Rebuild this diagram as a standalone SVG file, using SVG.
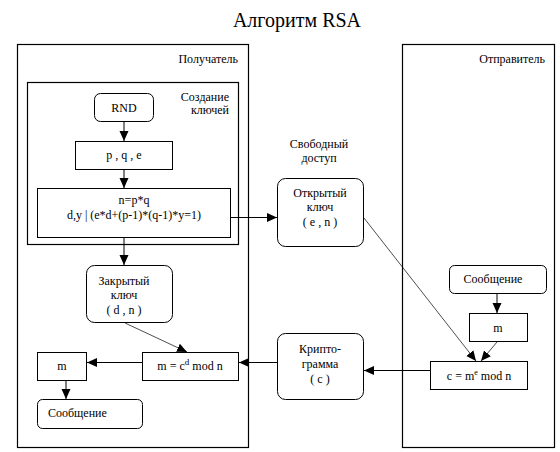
<svg xmlns="http://www.w3.org/2000/svg" width="560" height="452" viewBox="0 0 560 452">
<defs>
  <marker id="ah" markerUnits="userSpaceOnUse" markerWidth="10" markerHeight="10" viewBox="0 0 10 10" refX="10" refY="5" orient="auto">
    <path d="M0,0.5 L10,5 L0,9.5 Z" fill="#000"/>
  </marker>
</defs>
<rect width="560" height="452" fill="#fff"/>
<text font-family="Liberation Serif" font-size="20" text-anchor="middle" x="297" y="27">Алгоритм RSA</text>

<g id="receiver">
  <rect fill="none" stroke="#000" stroke-width="1.2" x="17.5" y="44.5" width="231" height="403"/>
  <text font-family="Liberation Serif" font-size="12" text-anchor="end" x="238" y="63">Получатель</text>
</g>
<g id="keygen">
  <rect fill="none" stroke="#000" stroke-width="1.2" x="27.5" y="82.5" width="211" height="162"/>
  <text font-family="Liberation Serif" font-size="12" text-anchor="end" x="229" y="101">Создание</text>
  <text font-family="Liberation Serif" font-size="12" text-anchor="end" x="229" y="114">ключей</text>
</g>
<g id="sender">
  <rect fill="none" stroke="#000" stroke-width="1.2" x="402.5" y="44.5" width="152" height="403"/>
  <text font-family="Liberation Serif" font-size="12" text-anchor="end" x="545" y="63">Отправитель</text>
</g>
<g id="public-label">
  <text font-family="Liberation Serif" font-size="12" text-anchor="middle" x="319" y="148">Свободный</text>
  <text font-family="Liberation Serif" font-size="12" text-anchor="middle" x="319" y="162">доступ</text>
</g>

<g id="rnd">
  <rect fill="#fff" stroke="#000" x="94.5" y="93.5" width="59" height="28" rx="6"/>
  <text font-family="Liberation Serif" font-size="12" text-anchor="middle" x="124" y="112">RND</text>
</g>
<g id="pqe">
  <rect fill="#fff" stroke="#000" x="75.5" y="141.5" width="97" height="28"/>
  <text font-family="Liberation Serif" font-size="12" text-anchor="middle" x="124" y="159">p , q , e</text>
</g>
<g id="npq">
  <rect fill="#fff" stroke="#000" x="37.5" y="188.5" width="193" height="49"/>
  <text font-family="Liberation Serif" font-size="12" text-anchor="middle" x="134" y="204">n=p*q</text>
  <text font-family="Liberation Serif" font-size="12" text-anchor="middle" x="134" y="219">d,y | (e*d+(p-1)*(q-1)*y=1)</text>
</g>
<g id="public-key">
  <rect fill="#fff" stroke="#000" x="277.5" y="178.5" width="86" height="68" rx="8"/>
  <text font-family="Liberation Serif" font-size="12" text-anchor="middle" x="320" y="197">Открытый</text>
  <text font-family="Liberation Serif" font-size="12" text-anchor="middle" x="320" y="211">ключ</text>
  <text font-family="Liberation Serif" font-size="12" text-anchor="middle" x="320" y="226">( e , n )</text>
</g>
<g id="private-key">
  <rect fill="#fff" stroke="#000" x="86.5" y="265.5" width="86" height="57" rx="8"/>
  <text font-family="Liberation Serif" font-size="12" text-anchor="middle" x="124" y="285">Закрытый</text>
  <text font-family="Liberation Serif" font-size="12" text-anchor="middle" x="124" y="299">ключ</text>
  <text font-family="Liberation Serif" font-size="12" text-anchor="middle" x="124" y="314">( d , n )</text>
</g>
<g id="decrypt">
  <rect fill="#fff" stroke="#000" x="142.5" y="352.5" width="96" height="28"/>
  <text font-family="Liberation Serif" font-size="12" text-anchor="middle" x="190" y="370">m = c<tspan font-size="9" dy="-5">d</tspan><tspan dy="5"> mod n</tspan></text>
</g>
<g id="m-recv">
  <rect fill="#fff" stroke="#000" x="37.5" y="352.5" width="49" height="28"/>
  <text font-family="Liberation Serif" font-size="12" text-anchor="middle" x="62" y="370">m</text>
</g>
<g id="msg-recv">
  <rect fill="#fff" stroke="#000" x="37.5" y="399.5" width="105" height="29" rx="5"/>
  <text font-family="Liberation Serif" font-size="12" x="48" y="417">Сообщение</text>
</g>
<g id="cryptogram">
  <rect fill="#fff" stroke="#000" x="277.5" y="333.5" width="86" height="66" rx="8"/>
  <text font-family="Liberation Serif" font-size="12" text-anchor="middle" x="320" y="353">Крипто-</text>
  <text font-family="Liberation Serif" font-size="12" text-anchor="middle" x="320" y="368">грамма</text>
  <text font-family="Liberation Serif" font-size="12" text-anchor="middle" x="320" y="383">( c )</text>
</g>
<g id="msg-send">
  <rect fill="#fff" stroke="#000" x="449.5" y="265.5" width="97" height="28" rx="5"/>
  <text font-family="Liberation Serif" font-size="12" text-anchor="middle" x="493" y="283">Сообщение</text>
</g>
<g id="m-send">
  <rect fill="#fff" stroke="#000" x="469.5" y="313.5" width="58" height="28"/>
  <text font-family="Liberation Serif" font-size="12" text-anchor="middle" x="498" y="332">m</text>
</g>
<g id="encrypt">
  <rect fill="#fff" stroke="#000" x="430.5" y="361.5" width="97" height="28"/>
  <text font-family="Liberation Serif" font-size="12" text-anchor="middle" x="479" y="380">c = m<tspan font-size="8" dy="-5">e</tspan><tspan dy="5">  mod n</tspan></text>
</g>

<g id="connectors" fill="none" stroke="#000">
  <line x1="124" y1="122" x2="124" y2="141" marker-end="url(#ah)"/>
  <line x1="124" y1="170" x2="124" y2="188" marker-end="url(#ah)"/>
  <line x1="231" y1="217.5" x2="277" y2="217.5" marker-end="url(#ah)"/>
  <line x1="124" y1="238" x2="124" y2="265" marker-end="url(#ah)"/>
  <line stroke-width="0.7" x1="125" y1="323" x2="187" y2="352" marker-end="url(#ah)"/>
  <line x1="142" y1="362.5" x2="87" y2="362.5" marker-end="url(#ah)"/>
  <line x1="66" y1="381" x2="66" y2="399" marker-end="url(#ah)"/>
  <line x1="277" y1="362.5" x2="239" y2="362.5" marker-end="url(#ah)"/>
  <line x1="430" y1="370.5" x2="364" y2="370.5" marker-end="url(#ah)"/>
  <line x1="497" y1="294" x2="497" y2="313" marker-end="url(#ah)"/>
  <line stroke-width="0.7" x1="497" y1="342" x2="481" y2="361" marker-end="url(#ah)"/>
  <line stroke-width="0.7" x1="364" y1="218" x2="476" y2="361" marker-end="url(#ah)"/>
</g>
</svg>
